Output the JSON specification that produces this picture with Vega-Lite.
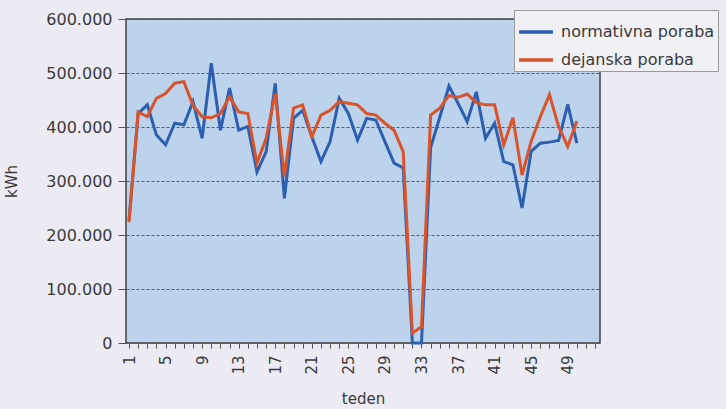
{
  "$schema": "https://vega.github.io/schema/vega-lite/v6.json",
  "autosize": {"type": "none"},
  "padding": {"left": 126, "top": 19, "right": 126, "bottom": 66},
  "width": 474,
  "height": 324,
  "background": "#ecebf3",
  "config": {
    "view": {"fill": "#bdd3eb", "stroke": "#404040", "strokeWidth": 1.5},
    "font": "DejaVu Sans",
    "axis": {"labelFont": "DejaVu Sans", "titleFont": "DejaVu Sans", "labelColor": "#3a3a3a", "titleColor": "#3a3a3a", "titleFontWeight": "normal", "tickColor": "#555", "domain": false},
    "legend": {"labelFont": "DejaVu Sans"}
  },
  "datasets": {
    "poraba": [
      {"week": 1, "series": "normativna poraba", "kwh": 228000}, {"week": 1, "series": "dejanska poraba", "kwh": 224000},
      {"week": 2, "series": "normativna poraba", "kwh": 425000}, {"week": 2, "series": "dejanska poraba", "kwh": 428000},
      {"week": 3, "series": "normativna poraba", "kwh": 441000}, {"week": 3, "series": "dejanska poraba", "kwh": 419000},
      {"week": 4, "series": "normativna poraba", "kwh": 385000}, {"week": 4, "series": "dejanska poraba", "kwh": 453000},
      {"week": 5, "series": "normativna poraba", "kwh": 367000}, {"week": 5, "series": "dejanska poraba", "kwh": 462000},
      {"week": 6, "series": "normativna poraba", "kwh": 407000}, {"week": 6, "series": "dejanska poraba", "kwh": 481000},
      {"week": 7, "series": "normativna poraba", "kwh": 404000}, {"week": 7, "series": "dejanska poraba", "kwh": 484000},
      {"week": 8, "series": "normativna poraba", "kwh": 447000}, {"week": 8, "series": "dejanska poraba", "kwh": 440000},
      {"week": 9, "series": "normativna poraba", "kwh": 379000}, {"week": 9, "series": "dejanska poraba", "kwh": 419000},
      {"week": 10, "series": "normativna poraba", "kwh": 518000}, {"week": 10, "series": "dejanska poraba", "kwh": 417000},
      {"week": 11, "series": "normativna poraba", "kwh": 394000}, {"week": 11, "series": "dejanska poraba", "kwh": 425000},
      {"week": 12, "series": "normativna poraba", "kwh": 472000}, {"week": 12, "series": "dejanska poraba", "kwh": 456000},
      {"week": 13, "series": "normativna poraba", "kwh": 394000}, {"week": 13, "series": "dejanska poraba", "kwh": 428000},
      {"week": 14, "series": "normativna poraba", "kwh": 401000}, {"week": 14, "series": "dejanska poraba", "kwh": 425000},
      {"week": 15, "series": "normativna poraba", "kwh": 317000}, {"week": 15, "series": "dejanska poraba", "kwh": 333000},
      {"week": 16, "series": "normativna poraba", "kwh": 354000}, {"week": 16, "series": "dejanska poraba", "kwh": 379000},
      {"week": 17, "series": "normativna poraba", "kwh": 481000}, {"week": 17, "series": "dejanska poraba", "kwh": 462000},
      {"week": 18, "series": "normativna poraba", "kwh": 268000}, {"week": 18, "series": "dejanska poraba", "kwh": 308000},
      {"week": 19, "series": "normativna poraba", "kwh": 416000}, {"week": 19, "series": "dejanska poraba", "kwh": 435000},
      {"week": 20, "series": "normativna poraba", "kwh": 431000}, {"week": 20, "series": "dejanska poraba", "kwh": 441000},
      {"week": 21, "series": "normativna poraba", "kwh": 382000}, {"week": 21, "series": "dejanska poraba", "kwh": 382000},
      {"week": 22, "series": "normativna poraba", "kwh": 336000}, {"week": 22, "series": "dejanska poraba", "kwh": 422000},
      {"week": 23, "series": "normativna poraba", "kwh": 373000}, {"week": 23, "series": "dejanska poraba", "kwh": 431000},
      {"week": 24, "series": "normativna poraba", "kwh": 453000}, {"week": 24, "series": "dejanska poraba", "kwh": 447000},
      {"week": 25, "series": "normativna poraba", "kwh": 425000}, {"week": 25, "series": "dejanska poraba", "kwh": 444000},
      {"week": 26, "series": "normativna poraba", "kwh": 376000}, {"week": 26, "series": "dejanska poraba", "kwh": 441000},
      {"week": 27, "series": "normativna poraba", "kwh": 416000}, {"week": 27, "series": "dejanska poraba", "kwh": 425000},
      {"week": 28, "series": "normativna poraba", "kwh": 413000}, {"week": 28, "series": "dejanska poraba", "kwh": 422000},
      {"week": 29, "series": "normativna poraba", "kwh": 373000}, {"week": 29, "series": "dejanska poraba", "kwh": 407000},
      {"week": 30, "series": "normativna poraba", "kwh": 333000}, {"week": 30, "series": "dejanska poraba", "kwh": 394000},
      {"week": 31, "series": "normativna poraba", "kwh": 324000}, {"week": 31, "series": "dejanska poraba", "kwh": 354000},
      {"week": 32, "series": "normativna poraba", "kwh": 0}, {"week": 32, "series": "dejanska poraba", "kwh": 18000},
      {"week": 33, "series": "normativna poraba", "kwh": 0}, {"week": 33, "series": "dejanska poraba", "kwh": 30000},
      {"week": 34, "series": "normativna poraba", "kwh": 362000}, {"week": 34, "series": "dejanska poraba", "kwh": 422000},
      {"week": 35, "series": "normativna poraba", "kwh": 418000}, {"week": 35, "series": "dejanska poraba", "kwh": 435000},
      {"week": 36, "series": "normativna poraba", "kwh": 476000}, {"week": 36, "series": "dejanska poraba", "kwh": 458000},
      {"week": 37, "series": "normativna poraba", "kwh": 444000}, {"week": 37, "series": "dejanska poraba", "kwh": 455000},
      {"week": 38, "series": "normativna poraba", "kwh": 410000}, {"week": 38, "series": "dejanska poraba", "kwh": 461000},
      {"week": 39, "series": "normativna poraba", "kwh": 465000}, {"week": 39, "series": "dejanska poraba", "kwh": 445000},
      {"week": 40, "series": "normativna poraba", "kwh": 379000}, {"week": 40, "series": "dejanska poraba", "kwh": 441000},
      {"week": 41, "series": "normativna poraba", "kwh": 407000}, {"week": 41, "series": "dejanska poraba", "kwh": 441000},
      {"week": 42, "series": "normativna poraba", "kwh": 336000}, {"week": 42, "series": "dejanska poraba", "kwh": 367000},
      {"week": 43, "series": "normativna poraba", "kwh": 330000}, {"week": 43, "series": "dejanska poraba", "kwh": 417000},
      {"week": 44, "series": "normativna poraba", "kwh": 250000}, {"week": 44, "series": "dejanska poraba", "kwh": 311000},
      {"week": 45, "series": "normativna poraba", "kwh": 355000}, {"week": 45, "series": "dejanska poraba", "kwh": 373000},
      {"week": 46, "series": "normativna poraba", "kwh": 370000}, {"week": 46, "series": "dejanska poraba", "kwh": 419000},
      {"week": 47, "series": "normativna poraba", "kwh": 372000}, {"week": 47, "series": "dejanska poraba", "kwh": 460000},
      {"week": 48, "series": "normativna poraba", "kwh": 375000}, {"week": 48, "series": "dejanska poraba", "kwh": 401000},
      {"week": 49, "series": "normativna poraba", "kwh": 442000}, {"week": 49, "series": "dejanska poraba", "kwh": 364000},
      {"week": 50, "series": "normativna poraba", "kwh": 370000}, {"week": 50, "series": "dejanska poraba", "kwh": 411000}
    ]
  },
  "data": {"name": "poraba"},
  "encoding": {
    "x": {
      "field": "week", "type": "quantitative",
      "scale": {"domain": [0.67, 52.53], "nice": false, "zero": false},
      "axis": {
        "title": "teden", "titleFontSize": 15, "titlePadding": 17,
        "values": [1,2,3,4,5,6,7,8,9,10,11,12,13,14,15,16,17,18,19,20,21,22,23,24,25,26,27,28,29,30,31,32,33,34,35,36,37,38,39,40,41,42,43,44,45,46,47,48,49,50,51,52],
        "labelExpr": "(datum.value - 1) % 4 == 0 ? datum.label : ''",
        "labelAngle": -90, "labelFontSize": 15, "labelPadding": 7, "tickSize": 5,
        "labelOverlap": false, "grid": false
      }
    },
    "y": {
      "field": "kwh", "type": "quantitative",
      "scale": {"domain": [0, 600000], "nice": false},
      "axis": {
        "title": "kWh", "titleFontSize": 15, "titlePadding": 26,
        "values": [0, 100000, 200000, 300000, 400000, 500000, 600000],
        "labelExpr": "replace(format(datum.value, ','), ',', '.')",
        "labelFontSize": 16, "labelPadding": 6, "tickSize": 8,
        "grid": true, "gridColor": "#5a5a5a", "gridDash": [3, 2], "gridWidth": 1
      }
    },
    "color": {
      "field": "series", "type": "nominal",
      "scale": {"domain": ["normativna poraba", "dejanska poraba"], "range": ["#2d5fb0", "#d9532b"]},
      "legend": {
        "title": null, "orient": "none", "legendX": 388, "legendY": -9,
        "fillColor": "#f1f0f5", "strokeColor": "#9a9a9a", "padding": 3,
        "symbolType": "stroke", "symbolSize": 1150, "symbolStrokeWidth": 3.5,
        "labelFontSize": 16, "labelColor": "#3a3a3a", "rowPadding": 1, "labelOffset": 6
      }
    }
  },
  "layer": [
    {"transform": [{"filter": "datum.series == 'normativna poraba'"}], "mark": {"type": "line", "strokeWidth": 3}},
    {"transform": [{"filter": "datum.series == 'dejanska poraba'"}], "mark": {"type": "line", "strokeWidth": 3}}
  ]
}
